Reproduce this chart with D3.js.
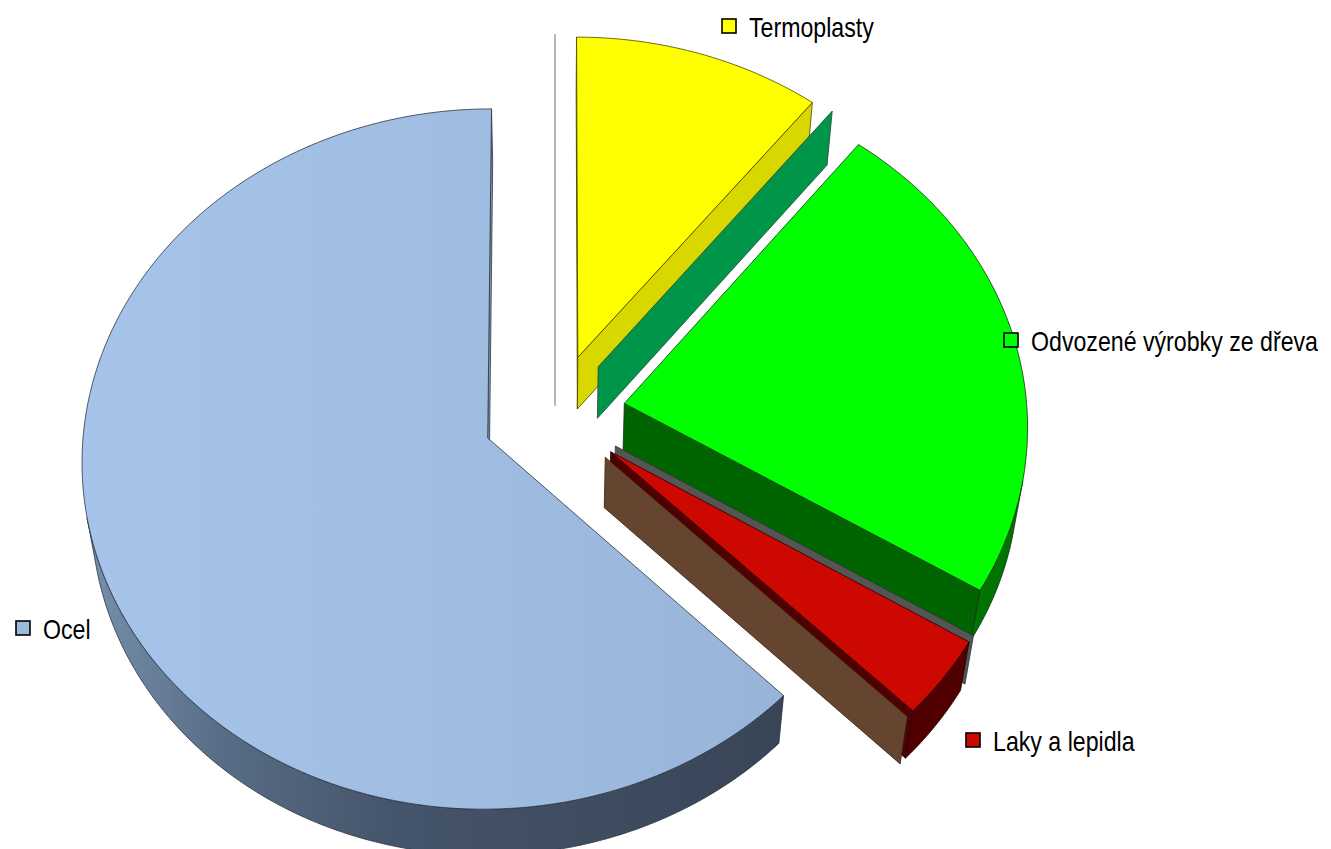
<!DOCTYPE html>
<html><head><meta charset="utf-8">
<script src="https://cdn.jsdelivr.net/npm/d3@7"></script>
<style>html,body{margin:0;padding:0;background:#fff;overflow:hidden}svg{display:block}
text{font-family:"Liberation Sans",sans-serif;font-size:27px;fill:#000}</style>
</head><body><svg id="c" width="1331" height="849"></svg>
<script>
// data (clockwise from 12 o'clock); unnamed entries are zero-value series of the original
const categories = [null, "Termoplasty", null, "Odvozené výrobky ze dřeva", null, "Laky a lepidla", null, "Ocel"];
const values     = [0, 10.6, 0, 23.2, 0, 3.7, 0, 62.5];
// styles
const topColors  = ["#888888", "#ffff00", "#00964a", "#00ff00", "#555555", "#cc0800", "#664530", "url(#ocelTop)"];
const sideColors = ["#999999", "#d8d800", "#00964a", "#006400", "#555555", "#500000", "#664530", "#8aa0bb"];
const rimColors  = ["#999999", "#d8d800", "#00964a", "#007400", "#666666", "#500000", "#664530", "url(#ocelRim)"];
const strokeColors = ["#aaaaaa", "#444400", "#224433", "#113311", "#333333", "#220000", "#332211", "#2b3440"];
const legendSwatch = ["#ffff00", "#00ff00", "#cc0800", "#9bb8dd"];
const explode = [0.175, 0.175, 0.175, 0.175, 0.175, 0.175, 0.175, 0.18];
// layout
const legendPos = {"Termoplasty":[729,26], "Odvozené výrobky ze dřeva":[1011,340], "Laky a lepidla":[973,740], "Ocel":[23,628]};
const textSqueeze = 0.858;
const cx = 555, cy = 414, R = 403, Ry = 346, k = 0.06, depth = 52, lean = 0.02;

const svg = d3.select("#c");
const defs = svg.append("defs");
function grad(id, x1, x2, stops){
  const g = defs.append("linearGradient").attr("id", id).attr("gradientUnits","userSpaceOnUse")
    .attr("x1",x1).attr("x2",x2).attr("y1",0).attr("y2",0);
  stops.forEach(([o,c]) => g.append("stop").attr("offset",o).attr("stop-color",c));
}
grad("ocelTop", 82, 781, [[0,"#a6c4ea"],[0.5,"#a0bde2"],[1,"#98b4d9"]]);
grad("ocelRim", 85, 781, [[0,"#7790ad"],[0.2,"#586c85"],[0.45,"#44546a"],[1,"#394557"]]);

const xs = d3.scaleLinear().domain([-1,1]).range([-R,R]);
const ys = d3.scaleLinear().domain([-1,1]).range([-Ry,Ry]);
const zs = d3.scaleLinear().domain([0,1]).range([0,depth]);
function proj(u,v,z){
  const w = 1 - k*v + lean*z;
  return [cx + xs(u)/w, cy + (ys(v)+zs(z))/w];
}
const pie = d3.pie().sort(null).startAngle(0).endAngle(2*Math.PI).value(d=>d);
const arcs = pie(values);
const line = d3.line();
const closed = pts => line(pts) + "Z";
const area = q => d3.polygonArea(q);

arcs.forEach((a,i)=>{
  const mid = (a.startAngle+a.endAngle)/2;
  const ax = explode[i]*Math.sin(mid), ay = -explode[i]*Math.cos(mid);
  const n = Math.max(1, Math.ceil((a.endAngle-a.startAngle)/0.01));
  const world = d3.range(n+1).map(t=>{
    const th = a.startAngle + (a.endAngle-a.startAngle)*t/n;
    return [ax+Math.sin(th), ay-Math.cos(th)];
  });
  const top = world.map(p=>proj(p[0],p[1],0)), bot = world.map(p=>proj(p[0],p[1],1));
  const apexT = proj(ax,ay,0), apexB = proj(ax,ay,1);
  const g = svg.append("g");
  const wall = (pts,fill)=> g.append("path").attr("d",closed(pts)).attr("fill",fill)
      .attr("stroke",strokeColors[i]).attr("stroke-width",0.8).attr("stroke-linejoin","round");
  // radial walls
  [[apexT,top[0],bot[0],apexB],[top[n],apexT,apexB,bot[n]]].forEach(q=>{
    if (area(q) > -1e-6) wall(q, sideColors[i]);
  });
  // outer rim: group visible runs
  let run = [];
  const flush = ()=>{
    if(run.length>1){
      wall(run.map(j=>top[j]).concat(run.slice().reverse().map(j=>bot[j])), rimColors[i]);
    }
    run=[];
  };
  for(let j=0;j<n;j++){
    const q=[top[j],top[j+1],bot[j+1],bot[j]];
    if(a.endAngle>a.startAngle && area(q)>0){ if(!run.length) run.push(j); run.push(j+1);} else flush();
  }
  flush();
  if(a.endAngle>a.startAngle){
    g.append("path").attr("d",closed([apexT,...top])).attr("fill",topColors[i])
      .attr("stroke",strokeColors[i]).attr("stroke-width",0.8).attr("stroke-linejoin","round");
  }
});

// legend
const named = categories.filter(c=>c);
const lg = svg.selectAll("g.lg").data(named).join("g").attr("class","lg")
  .attr("transform",d=>`translate(${legendPos[d]})`);
lg.append("rect").attr("x",-7).attr("y",-7).attr("width",14).attr("height",14)
  .attr("fill",(d,i)=>legendSwatch[i]).attr("stroke","#000").attr("stroke-width",1.6);
lg.append("text").attr("transform",`translate(20,10.5) scale(${textSqueeze},1)`).text(d=>d);
</script></body></html>
